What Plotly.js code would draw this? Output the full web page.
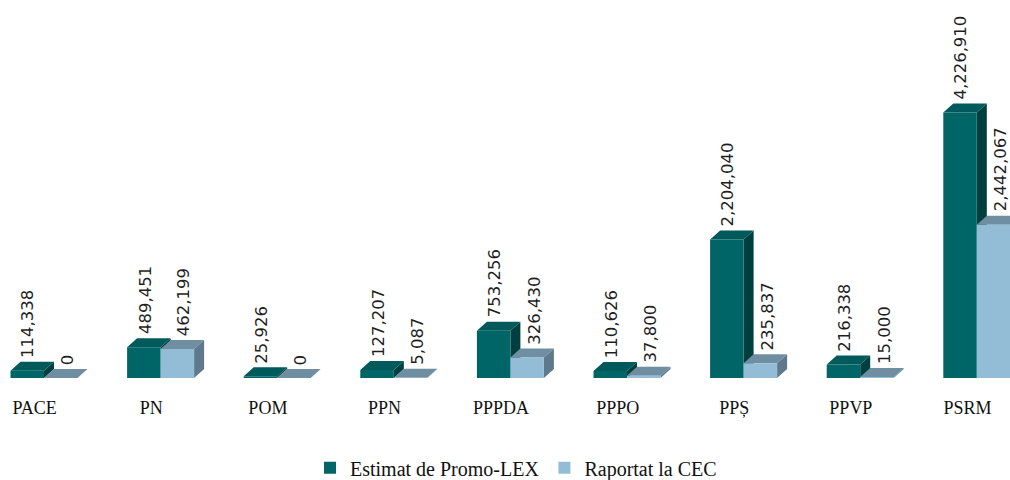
<!DOCTYPE html>
<html>
<head>
<meta charset="utf-8">
<script src="https://cdn.plot.ly/plotly-3.0.1.min.js"></script>
<style>html,body{margin:0;padding:0;background:#fff;}#chart{width:1010px;height:480px;}</style>
</head>
<body>
<div id="chart"></div>
<script>
// ---- data ----
var categories = ["PACE", "PN", "POM", "PPN", "PPPDA", "PPPO", "PPȘ", "PPVP", "PSRM"];
var estimatPromoLex = [114338, 489451, 25926, 127207, 753256, 110626, 2204040, 216338, 4226910];
var raportatCEC = [0, 462199, 0, 5087, 326430, 37800, 235837, 15000, 2442067];
var seriesNames = ["Estimat de Promo-LEX", "Raportat la CEC"];

// ---- style ----
var frontColors = ["#006566", "#93bcd7"];
var topColors = ["#00595a", "#6f8ea2"];
var sideColors = ["#003f40", "#5e798b"];

var W = 1010, H = 480;
var marginL = 0, marginR = 0, marginT = 10, marginB = 102;
var catPx = 116.6;                 // pixel width per category
var barPx = 33.5;                  // pixel width per bar
var firstCenterPx = 44;            // pixel of the first group centre
var xMin = -firstCenterPx / catPx;
var xMax = xMin + (W - marginL - marginR) / catPx;
var yMax = 5.86e6;
var plotH = H - marginT - marginB;
var pxPerY = plotH / yMax;
var bw = barPx / catPx;            // bar width in data units
var dx = 10 / catPx;               // depth offsets in data units
var dy = 9 / pxPerY;

var xs = categories.map(function (c, i) { return i; });
var seriesValues = [estimatPromoLex, raportatCEC];

var traces = seriesValues.map(function (vals, k) {
  return {
    type: "bar",
    name: seriesNames[k],
    x: xs,
    y: vals,
    width: bw,
    offset: k === 0 ? -bw : 0,
    marker: { color: frontColors[k], line: { width: 0 } },
    hoverinfo: "skip"
  };
});

var shapes = [];
var annotations = [];
categories.forEach(function (c, i) {
  seriesValues.forEach(function (vals, k) {
    var h = vals[i];
    var x0 = i + (k === 0 ? -bw : 0);
    var x1 = x0 + bw;
    // side face
    shapes.push({
      type: "path", xref: "x", yref: "y", layer: "below",
      path: "M" + x1 + "," + 0 + " L" + (x1 + dx) + "," + dy + " L" + (x1 + dx) + "," + (h + dy) + " L" + x1 + "," + h + " Z",
      fillcolor: sideColors[k], line: { width: 0 }
    });
    // top face
    shapes.push({
      type: "path", xref: "x", yref: "y", layer: "below",
      path: "M" + x0 + "," + h + " L" + x1 + "," + h + " L" + (x1 + dx) + "," + (h + dy) + " L" + (x0 + dx) + "," + (h + dy) + " Z",
      fillcolor: topColors[k], line: { width: 0 }
    });
    annotations.push({
      xref: "x", yref: "y",
      x: x0 + bw / 2, y: h + dy,
      text: h.toLocaleString("en-US"),
      showarrow: false,
      textangle: -90,
      xanchor: "center", yanchor: "bottom",
      xshift: k === 0 ? 1 : 7, yshift: 2,
      font: { family: "DejaVu Sans", size: 16.5, color: "#1e1e1e" }
    });
  });
});

var layout = {
  width: W, height: H,
  margin: { l: marginL, r: marginR, t: marginT, b: marginB, pad: 0, autoexpand: false },
  paper_bgcolor: "#ffffff",
  plot_bgcolor: "#ffffff",
  showlegend: true,
  legend: {
    orientation: "h",
    x: 310 / W, xanchor: "left",
    y: -0.244, yanchor: "middle",
    font: { family: "Liberation Serif", size: 20, color: "#111111" },
    traceorder: "normal"
  },
  xaxis: {
    range: [xMin, xMax],
    tickvals: xs.map(function (v) { return v - 0.08; }),
    ticktext: categories,
    ticks: "",
    ticklabelstandoff: 17,
    showgrid: false, zeroline: false, showline: false,
    tickfont: { family: "Liberation Serif", size: 18, color: "#111111" },
    fixedrange: true
  },
  yaxis: {
    range: [0, yMax],
    visible: false,
    showgrid: false, zeroline: false,
    fixedrange: true
  },
  shapes: shapes,
  annotations: annotations
};

Plotly.newPlot("chart", traces, layout, { displayModeBar: false, staticPlot: true });
</script>
</body>
</html>
